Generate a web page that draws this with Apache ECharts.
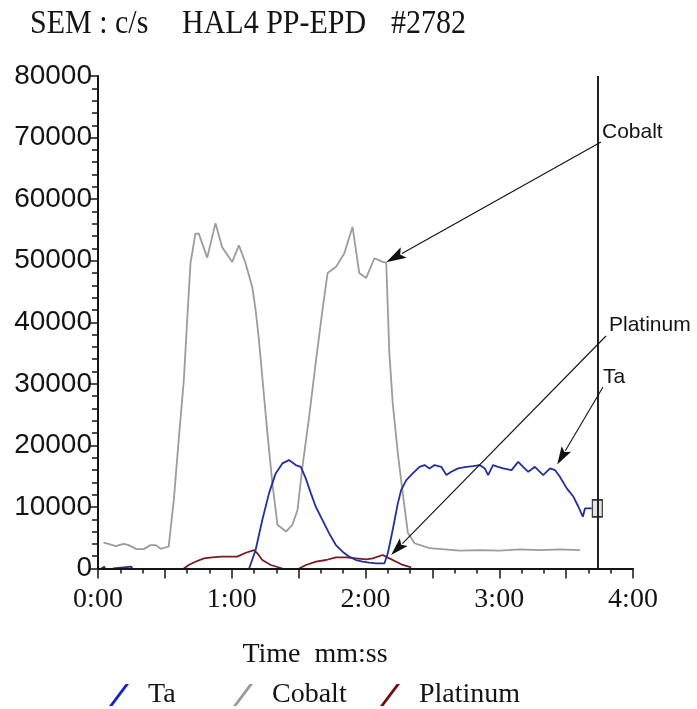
<!DOCTYPE html>
<html>
<head>
<meta charset="utf-8">
<script src="https://cdn.jsdelivr.net/npm/echarts@6/dist/echarts.min.js"></script>
<style>
  html, body { margin: 0; padding: 0; background: #ffffff; }
  #chart { width: 697px; height: 709px; }
</style>
</head>
<body>
<div id="chart"></div>
<script>
// SEM depth profile, counts per second against sputter time (seconds)

// Cobalt signal: [time s, counts/s]
const cobalt = [
  [2.5, 4200], [4.7, 4000], [7.9, 3650], [11.5, 4000], [13.7, 3800], [17.3, 3150],
  [20.5, 3150], [23.6, 3800], [25.9, 3800], [28.1, 3200], [30.4, 3450], [31.7, 3550],
  [34.0, 11100], [36.2, 20900], [38.5, 30600], [40.0, 40300], [41.5, 49600], [43.7, 54400],
  [45.2, 54400], [49.0, 50500], [52.7, 56100], [55.7, 52200], [60.2, 49800], [63.2, 52500],
  [66.2, 49600], [69.2, 45700], [70.7, 42000], [72.2, 37100], [73.7, 31100], [76.0, 22000],
  [78.2, 13900], [80.5, 7100], [84.3, 6000], [87.2, 7100], [89.5, 9500], [91.7, 16500],
  [94.7, 24600], [97.8, 33800], [100.7, 42000], [103.0, 48000], [106.8, 49000], [110.5, 51200],
  [114.2, 55500], [117.2, 48000], [120.3, 47200], [124.0, 50400], [127.7, 49800], [129.3, 49700],
  [130.7, 35000], [132.2, 26900], [134.5, 18700], [136.7, 12300], [139.0, 5800], [142.0, 4100],
  [148.7, 3300], [155.5, 3100], [162.3, 2900], [171.3, 3000], [180.2, 2900], [189.3, 3100],
  [198.2, 3000], [207.2, 3100], [216.2, 3000]
];

// Tantalum signal (null = below detection, nothing drawn)
const ta = [
  [1.5, 0], [1.8, 300], [2.8, 300], [3.1, 0], [5.0, null], [6.8, 0], [7.1, 300], [15.0, 300],
  [15.3, 0], [40.0, null], [67.8, 0], [68.5, 290], [70.7, 3000], [73.7, 7870], [76.7, 12200],
  [79.7, 15450], [82.7, 17070], [85.7, 17610], [88.7, 16800], [91.0, 16520], [93.2, 14640],
  [95.5, 12200], [97.7, 10030], [100.7, 7870], [103.7, 5710], [106.7, 3810], [109.7, 2730],
  [112.7, 1920], [115.7, 1380], [118.7, 1100], [121.7, 940], [124.7, 840], [128.5, 840],
  [130.0, 2470], [132.2, 6250], [134.5, 10580], [136.0, 12740], [138.3, 14360], [141.2, 15450],
  [144.2, 16520], [146.5, 16800], [148.7, 16260], [151.0, 16800], [154.0, 16520], [156.3, 15170],
  [158.5, 15710], [161.5, 16260], [165.3, 16520], [168.2, 16640], [171.2, 16800], [173.5, 16260],
  [175.0, 15170], [177.2, 16800], [179.5, 16520], [181.7, 16260], [185.5, 15990], [188.5, 17330],
  [190.7, 16520], [193.0, 15710], [196.0, 16520], [199.7, 15170], [202.8, 16260], [205.0, 15990],
  [207.2, 14900], [210.3, 13020], [213.3, 11650], [215.5, 10030], [217.5, 8410], [218.5, 9770],
  [221.5, 9770]
];

// Platinum signal
const platinum = [
  [38.5, 0], [40.7, 570], [43.7, 1100], [47.5, 1650], [51.2, 1820], [55.7, 1920], [62.5, 1920],
  [66.3, 2560], [70.0, 3000], [71.5, 2470], [73.7, 1380], [77.5, 570], [82.7, 0], [86.0, null],
  [90.2, 0], [93.3, 570], [97.8, 1100], [102.3, 1380], [106.8, 1820], [111.3, 1820], [115.8, 1650],
  [120.3, 1490], [123.2, 1650], [127.7, 2190], [130.7, 1650], [133.8, 1100], [136.7, 570],
  [140.5, 200]
];

// Time axis labels, one per minute
const timeLabels = ['0:00', '1:00', '2:00', '3:00', '4:00'];

// Read-out cursor position
const cursorTime = 224;
const cursorValue = 9770;

// Callouts: label text and the data point each arrow points at
const callouts = [
  { text: 'Cobalt',   target: [129.3, 49750] },
  { text: 'Platinum', target: [131.5, 2200] },
  { text: 'Ta',       target: [206.0, 16900] }
];

const serif = '"Liberation Serif", "Times New Roman", serif';
const sans = '"Liberation Sans", Arial, sans-serif';
const ink = '#141414';

const chart = echarts.init(document.getElementById('chart'), null, { renderer: 'canvas' });

function legendAt(name, left) {
  return {
    left: left,
    top: 681,
    padding: 0,
    itemWidth: 20,
    itemHeight: 22,
    icon: 'path://M0,22L3.5,22L20,0L16.5,0Z',
    textStyle: { fontFamily: serif, fontSize: 28, color: ink, padding: [0, 0, 0, 14] },
    data: [name]
  };
}

chart.setOption({
  animation: false,
  backgroundColor: '#ffffff',
  grid: { left: 98, top: 76, width: 535, height: 492.5, containLabel: false, outerBoundsMode: 'none' },
  legend: [legendAt('Ta', 109), legendAt('Cobalt', 233), legendAt('Platinum', 380)],
  xAxis: {
    type: 'value',
    min: 0,
    max: 240,
    interval: 30,
    z: 4,
    name: 'Time  mm:ss',
    nameLocation: 'middle',
    nameGap: 72,
    nameTextStyle: { fontFamily: serif, fontSize: 28, color: ink, padding: [0, 101, 0, 0] },
    axisLine: { show: true, onZero: false, lineStyle: { color: ink, width: 2 } },
    axisTick: { show: true, length: 10, lineStyle: { color: ink, width: 1.5 } },
    minorTick: { show: true, splitNumber: 3, length: 5, lineStyle: { color: ink, width: 1.5 } },
    splitLine: { show: false },
    axisLabel: {
      margin: 17,
      fontFamily: serif,
      fontSize: 28,
      color: ink,
      formatter: function (v) { return v % 60 === 0 ? timeLabels[v / 60] : ''; }
    }
  },
  yAxis: {
    type: 'value',
    min: 0,
    max: 80000,
    interval: 10000,
    z: 4,
    axisLine: { show: true, lineStyle: { color: ink, width: 2 } },
    axisTick: { show: true, length: 8, lineStyle: { color: ink, width: 1.5 } },
    minorTick: { show: true, splitNumber: 5, length: 6, lineStyle: { color: ink, width: 1.5 } },
    splitLine: { show: false },
    axisLabel: {
      margin: 6, fontFamily: sans, fontSize: 28, color: ink,
      formatter: function (v) { return String(v); }
    }
  },
  series: [
    {
      name: 'Ta',
      type: 'line',
      data: ta,
      connectNulls: false,
      showSymbol: false,
      itemStyle: { color: '#1024c8' },
      lineStyle: { color: '#22309a', width: 1.8 },
      z: 3,
      markPoint: {
        silent: true,
        z: 5,
        symbol: 'rect',
        symbolSize: [10, 17],
        itemStyle: { color: '#e4e4e4', borderColor: '#333333', borderWidth: 1.5 },
        label: { show: false },
        data: [{ coord: [cursorTime, cursorValue] }]
      }
    },
    {
      name: 'Cobalt',
      type: 'line',
      data: cobalt,
      showSymbol: false,
      itemStyle: { color: '#9a9a9a' },
      lineStyle: { color: '#9c9c9c', width: 1.8 },
      z: 2,
      markLine: {
        silent: true,
        z: 6,
        symbol: ['none', 'none'],
        label: { show: false },
        lineStyle: { color: '#222222', width: 2, type: 'solid' },
        data: [{ xAxis: cursorTime }]
      }
    },
    {
      name: 'Platinum',
      type: 'line',
      data: platinum,
      connectNulls: false,
      showSymbol: false,
      itemStyle: { color: '#6e1010' },
      lineStyle: { color: '#7a1c1c', width: 1.8 },
      z: 2
    }
  ]
});

// Arrow from a pixel anchor to a data point, head drawn as a filled triangle
function arrow(from, toData, len, wid) {
  const to = chart.convertToPixel({ gridIndex: 0 }, toData);
  const dx = to[0] - from[0], dy = to[1] - from[1];
  const d = Math.hypot(dx, dy);
  const ux = dx / d, uy = dy / d;
  const bx = to[0] - ux * len, by = to[1] - uy * len;
  const px = -uy, py = ux;
  return [
    {
      type: 'line', silent: true, z: 10,
      shape: { x1: from[0], y1: from[1], x2: bx + ux * 2, y2: by + uy * 2 },
      style: { stroke: '#111111', lineWidth: 1.1 }
    },
    {
      type: 'polygon', silent: true, z: 10,
      shape: { points: [
        [to[0], to[1]],
        [bx + px * wid / 2, by + py * wid / 2],
        [bx + ux * len * 0.2, by + uy * len * 0.2],
        [bx - px * wid / 2, by - py * wid / 2]
      ] },
      style: { fill: '#111111' }
    }
  ];
}

function label(text, x, y, font, sy) {
  return {
    type: 'text', silent: true, z: 10, x: x, y: y, scaleY: sy || 1,
    style: { text: text, font: font, fill: ink, align: 'left', verticalAlign: 'middle' }
  };
}

const calloutAnchors = [[601, 142], [606, 336], [603, 387]];
const calloutLabelPos = [[602, 132], [609, 325], [603, 377]];
const calloutHeads = [[20, 12], [18, 11], [18, 11]];

const graphics = [
  label('SEM : c/s', 30, 24, '30px ' + serif, 1.15),
  label('HAL4 PP-EPD', 182, 24, '30px ' + serif, 1.15),
  label('#2782', 391, 24, '30px ' + serif, 1.15)
];
callouts.forEach(function (c, i) {
  graphics.push(label(c.text, calloutLabelPos[i][0], calloutLabelPos[i][1], '21px ' + sans));
  arrow(calloutAnchors[i], c.target, calloutHeads[i][0], calloutHeads[i][1]).forEach(function (g) {
    graphics.push(g);
  });
});

chart.setOption({ graphic: graphics });
</script>
</body>
</html>
